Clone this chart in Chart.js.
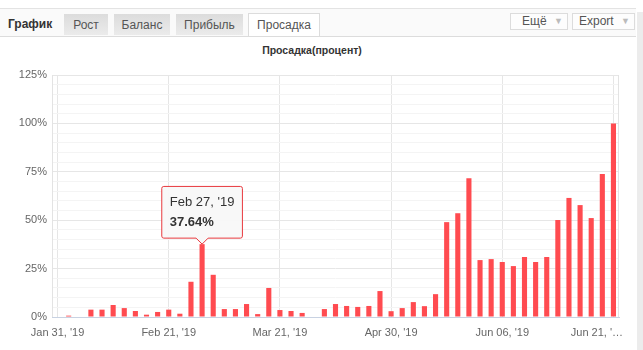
<!DOCTYPE html>
<html>
<head>
<meta charset="utf-8">
<script src="https://cdn.jsdelivr.net/npm/chart.js@4.4.1/dist/chart.umd.min.js"></script>
<style>
  html, body { margin:0; padding:0; width:643px; height:350px; background:#fff; overflow:hidden; font-family:"Liberation Sans", Arial, sans-serif; }
  .abs { position:absolute; }
  #header { left:0; top:8px; width:636px; height:27px; border-top:1px solid #e3e3e3; border-bottom:1px solid #dcdcdc; background:#fafafa; }
  .tab { position:absolute; top:14px; height:21px; line-height:22px; text-align:center; font-size:12px; color:#555;
         background:linear-gradient(#dcdcdc,#ebebeb); }
  .tab.active { background:#fff; border:1px solid #dcdcdc; border-bottom:none; height:22px; top:13px; }
  .btn { position:absolute; top:13px; height:15px; line-height:15px; border:1px solid #dcdcdc; background:#fdfdfd; font-size:12px; color:#555; }
  .btn span.arr { color:#bbb; font-size:9px; position:absolute; right:4px; top:0; }
</style>
</head>
<body>
<div id="header" class="abs"></div>
<div class="abs" style="left:8px;top:14px;height:20px;line-height:20px;font-size:12px;font-weight:bold;color:#333;">График</div>
<div class="tab" style="left:64px;width:44px;">Рост</div>
<div class="tab" style="left:114px;width:56px;">Баланс</div>
<div class="tab" style="left:176px;width:67px;">Прибыль</div>
<div class="tab active" style="left:248px;width:70px;">Просадка</div>
<div class="btn" style="left:510px;width:56px;"><span style="position:absolute;left:11px;">Ещё</span><span class="arr">▼</span></div>
<div class="btn" style="left:572px;width:61px;"><span style="position:absolute;left:6px;">Export</span><span class="arr">▼</span></div>
<div class="abs" style="left:637px;top:12px;width:6px;height:338px;background:#ececec;"></div>
<div class="abs" style="left:212px;top:44px;width:200px;text-align:center;font-size:10.5px;font-weight:bold;color:#333;">Просадка(процент)</div>
<div class="abs" style="left:0;top:36px;width:637px;height:314px;"><canvas id="c"></canvas></div>
<script>
// Categories (trading dates)
const categories = [
  "Jan 31, '19","Feb 01, '19","Feb 04, '19","Feb 06, '19","Feb 08, '19","Feb 11, '19","Feb 13, '19","Feb 15, '19","Feb 18, '19","Feb 20, '19",
  "Feb 21, '19","Feb 22, '19","Feb 25, '19","Feb 27, '19","Feb 28, '19","Mar 01, '19","Mar 05, '19","Mar 07, '19","Mar 12, '19","Mar 15, '19",
  "Mar 21, '19","Mar 22, '19","Mar 27, '19","Apr 01, '19","Apr 04, '19","Apr 09, '19","Apr 12, '19","Apr 16, '19","Apr 19, '19","Apr 24, '19",
  "Apr 30, '19","May 03, '19","May 07, '19","May 10, '19","May 14, '19","May 17, '19","May 21, '19","May 24, '19","May 28, '19","May 31, '19",
  "Jun 06, '19","Jun 07, '19","Jun 10, '19","Jun 11, '19","Jun 12, '19","Jun 13, '19","Jun 14, '19","Jun 17, '19","Jun 18, '19","Jun 19, '19",
  "Jun 21, '19"
];
// Drawdown values (%)
const drawdown = [
  0, 0.7, 0, 3.8, 3.8, 6.2, 4.6, 3.1, 1.2, 2.6,
  3.8, 1.7, 18.2, 37.64, 21.8, 4.1, 4.1, 6.7, 1.5, 15,
  3.6, 3.1, 2.1, 0, 4.1, 6.7, 5.7, 5.2, 5.7, 13.4,
  3.0, 4.6, 7.7, 5.6, 11.8, 49, 53.6, 71.7, 29.4, 29.9,
  28.4, 26.3, 31, 28.4, 31, 50.1, 61.5, 57.8, 51.1, 73.9,
  100
];
// X tick labels (every 10th category)
const xTickLabels = ["Jan 31, '19","Feb 21, '19","Mar 21, '19","Apr 30, '19","Jun 06, '19","Jun 21, '…\u2003\u2003\u2003"];
const yTickStep = 5;
const yMajorStep = 25;
const yMax = 125;
const activeIndex = 13;

const plotBorder = {
  id: 'plotBorder',
  beforeDatasetsDraw(chart) {
    const a = chart.chartArea, ctx = chart.ctx;
    ctx.save();
    ctx.strokeStyle = '#e3e3e3';
    ctx.lineWidth = 1;
    ctx.beginPath();
    ctx.moveTo(Math.round(a.left) + 0.5, a.top);
    ctx.lineTo(Math.round(a.left) + 0.5, a.bottom);
    ctx.moveTo(Math.round(a.right) - 0.5, a.top);
    ctx.lineTo(Math.round(a.right) - 0.5, a.bottom);
    ctx.stroke();
    ctx.restore();
  }
};

const font = "'Liberation Sans', Arial, sans-serif";
const chart = new Chart(document.getElementById('c'), {
  type: 'bar',
  data: {
    labels: categories,
    datasets: [{
      data: drawdown,
      backgroundColor: '#ff4b50',
      borderWidth: 0,
      categoryPercentage: 1,
      barPercentage: 0.46
    }]
  },
  options: {
    responsive: true,
    maintainAspectRatio: false,
    animation: false,
    events: [],
    layout: { padding: { top: 39, right: 18, left: 0, bottom: 0 } },
    plugins: {
      legend: { display: false },
      title: { display: false },
      tooltip: {
        enabled: true,
        backgroundColor: 'rgba(248,248,248,0.96)',
        borderColor: '#e8383d',
        borderWidth: 1,
        titleColor: '#333',
        bodyColor: '#333',
        titleFont: { family: font, size: 13, weight: 'normal' },
        bodyFont: { family: font, size: 13, weight: 'bold' },
        titleMarginBottom: 4.5,
        padding: { left: 8, right: 8, top: 8, bottom: 8 },
        caretSize: 6,
        caretPadding: 0,
        cornerRadius: 2,
        displayColors: false,
        xAlign: 'center',
        yAlign: 'bottom',
        callbacks: {
          title: items => categories[items[0].dataIndex],
          label: item => item.raw.toFixed(2) + '%'
        }
      }
    },
    scales: {
      x: {
        offset: true,
        grid: { offset: false, color: '#e6e6e6', drawTicks: false },
        border: { display: true, color: '#c8d2e2', width: 1 },
        ticks: {
          autoSkip: false, maxRotation: 0, padding: 9,
          color: '#666', font: { family: font, size: 11 },
          callback: (v, i) => (i % 10 === 0 ? xTickLabels[i / 10] : null)
        },
        afterFit: s => { s.height = 33; s.paddingLeft = 0; s.paddingRight = 0; }
      },
      y: {
        min: 0, max: yMax,
        grid: {
          drawTicks: false,
          color: ctx => (ctx.tick && ctx.tick.value % yMajorStep === 0 ? '#e6e6e6' : '#f4f4f4')
        },
        border: { display: false },
        ticks: {
          stepSize: yTickStep, autoSkip: false, padding: 5,
          color: '#666', font: { family: font, size: 11 },
          callback: v => (v % yMajorStep === 0 ? v + '%' : '')
        },
        afterFit: s => { s.width = 52; }
      }
    }
  },
  plugins: [plotBorder]
});
chart.tooltip.setActiveElements([{ datasetIndex: 0, index: activeIndex }], { x: 0, y: 0 });
chart.update();
</script>
</body>
</html>
